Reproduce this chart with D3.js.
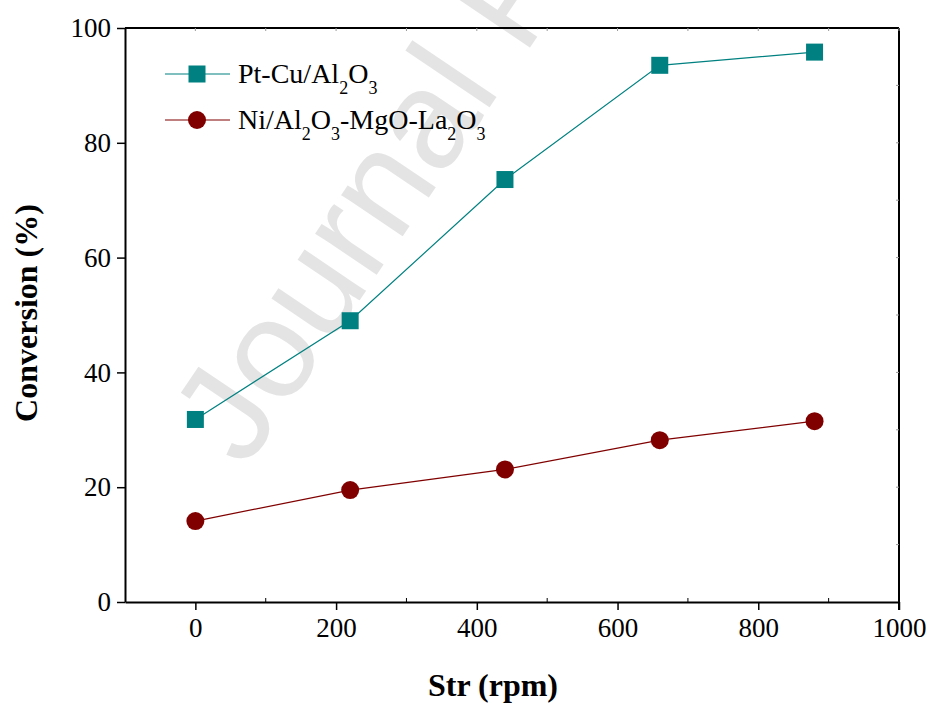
<!DOCTYPE html>
<html>
<head>
<meta charset="utf-8">
<script src="https://cdn.jsdelivr.net/npm/d3@7"></script>
<style>
  body { margin: 0; background: #fff; }
  text { font-family: "Liberation Serif", "Times New Roman", serif; }
</style>
</head>
<body>
<div id="chart"></div>
<script>
// stirring speed (rpm)
var speeds = [0, 220, 440, 660, 880];
var ptCu = [31.8, 49.0, 73.6, 93.5, 95.8];
var niAl = [14.1, 19.5, 23.1, 28.2, 31.5];
var xTicks = [0, 200, 400, 600, 800, 1000];
var yTicks = [0, 20, 40, 60, 80, 100];

var margin = {top: 28, right: 32, bottom: 102, left: 125},
    width = 931 - margin.left - margin.right,
    height = 704 - margin.top - margin.bottom;

var svg = d3.select("#chart")
  .append("svg")
    .attr("width", 931)
    .attr("height", 704);

// watermark
svg.append("text")
  .attr("transform", "translate(245,470) rotate(-56)")
  .style("font-family", "'Liberation Sans', Arial, sans-serif")
  .style("font-size", "140px")
  .style("fill", "#e4e4e4")
  .text("Journal Pre-proof");

var g = svg.append("g")
  .attr("transform", "translate(" + margin.left + "," + margin.top + ")");

var x = d3.scaleLinear().domain([-100, 1000]).range([0, width]);
var y = d3.scaleLinear().domain([0, 100]).range([height, 0]);

// bottom axis
var xAxis = g.append("g")
  .attr("transform", "translate(0," + height + ")")
  .call(d3.axisBottom(x).tickValues(xTicks).tickFormat(d3.format("d"))
    .tickSize(8).tickPadding(8).tickSizeOuter(0));
// left axis
var yAxis = g.append("g")
  .call(d3.axisLeft(y).tickValues(yTicks).tickFormat(d3.format("d"))
    .tickSize(8).tickPadding(6).tickSizeOuter(0));

[xAxis, yAxis].forEach(function(a) {
  a.attr("font-family", null);
  a.select(".domain").attr("stroke", "#000").attr("stroke-width", 2);
  a.selectAll(".tick line").attr("stroke", "#000").attr("stroke-width", 1.5);
  a.selectAll(".tick text")
    .style("font-family", "'Liberation Serif', 'Times New Roman', serif")
    .style("font-size", "27px")
    .attr("fill", "#000");
});

// minor ticks (inside) on bottom axis
g.selectAll("xMinor")
  .data([100, 300, 500, 700, 900])
  .enter().append("line")
    .attr("x1", function(d) { return x(d); })
    .attr("x2", function(d) { return x(d); })
    .attr("y1", height).attr("y2", height - 4)
    .attr("stroke", "#000").attr("stroke-width", 1);

// top and right frame
g.append("line").attr("x1", 0).attr("x2", width).attr("y1", 0).attr("y2", 0)
  .attr("stroke", "#000").attr("stroke-width", 2);
g.append("line").attr("x1", width).attr("x2", width).attr("y1", 0).attr("y2", height + 8)
  .attr("stroke", "#000").attr("stroke-width", 2);

// faint ticks on top and right
g.selectAll("topTicks")
  .data(d3.range(0, 1001, 100))
  .enter().append("line")
    .attr("x1", function(d) { return x(d); })
    .attr("x2", function(d) { return x(d); })
    .attr("y1", 0).attr("y2", 3)
    .attr("stroke", "#999").attr("stroke-width", 1);
g.selectAll("rightTicks")
  .data(d3.range(10, 100, 10))
  .enter().append("line")
    .attr("x1", width).attr("x2", width - 3)
    .attr("y1", function(d) { return y(d); })
    .attr("y2", function(d) { return y(d); })
    .attr("stroke", "#999").attr("stroke-width", 1);

// axis titles
svg.append("text")
  .attr("x", 493)
  .attr("y", 696)
  .attr("text-anchor", "middle")
  .style("font-size", "32px")
  .style("font-weight", "bold")
  .text("Str (rpm)");

svg.append("text")
  .attr("transform", "translate(37," + (margin.top + y(50) - 2) + ") rotate(-90)")
  .attr("text-anchor", "middle")
  .style("font-size", "32px")
  .style("font-weight", "bold")
  .text("Conversion (%)");

var teal = "#008080", maroon = "#800000";

var line = d3.line()
  .x(function(d, i) { return x(speeds[i]); })
  .y(function(d) { return y(d); });

g.append("path").datum(ptCu)
  .attr("d", line).attr("fill", "none").attr("stroke", teal).attr("stroke-width", 1.2);
g.append("path").datum(niAl)
  .attr("d", line).attr("fill", "none").attr("stroke", maroon).attr("stroke-width", 1.2);

g.selectAll("squares")
  .data(ptCu)
  .enter().append("rect")
    .attr("x", function(d, i) { return x(speeds[i]) - 8.5; })
    .attr("y", function(d) { return y(d) - 8.5; })
    .attr("width", 17).attr("height", 17)
    .attr("fill", teal);

g.selectAll("circles")
  .data(niAl)
  .enter().append("circle")
    .attr("cx", function(d, i) { return x(speeds[i]); })
    .attr("cy", function(d) { return y(d); })
    .attr("r", 9)
    .attr("fill", maroon);

// legend
var leg = svg.append("g");
leg.append("line").attr("x1", 165).attr("x2", 230).attr("y1", 74).attr("y2", 74)
  .attr("stroke", teal).attr("stroke-width", 1.2);
leg.append("rect").attr("x", 188.5).attr("y", 65.5).attr("width", 17).attr("height", 17).attr("fill", teal);
leg.append("line").attr("x1", 165).attr("x2", 230).attr("y1", 120).attr("y2", 120)
  .attr("stroke", maroon).attr("stroke-width", 1.2);
leg.append("circle").attr("cx", 197).attr("cy", 120).attr("r", 9).attr("fill", maroon);

function chem(sel, parts) {
  parts.forEach(function(p) {
    var t = sel.append("tspan").text(p[0]);
    if (p[1]) t.attr("dy", 11).style("font-size", "18px");
    else t.attr("dy", p[2] ? -11 : 0);
  });
}
var t1 = leg.append("text").attr("x", 238).attr("y", 83).style("font-size", "28px");
chem(t1, [["Pt-Cu/Al"], ["2", true], ["O", false, true], ["3", true]]);
var t2 = leg.append("text").attr("x", 238).attr("y", 129).style("font-size", "28px");
chem(t2, [["Ni/Al"], ["2", true], ["O", false, true], ["3", true], ["-MgO-La", false, true], ["2", true], ["O", false, true], ["3", true]]);
</script>
</body>
</html>
